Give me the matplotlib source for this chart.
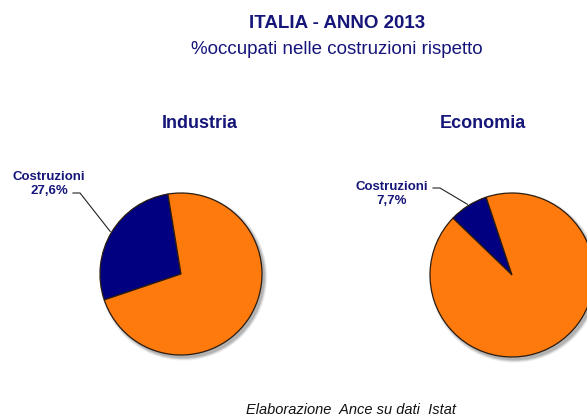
import numpy as np
import matplotlib
matplotlib.use("Agg")
import matplotlib.pyplot as plt
from matplotlib.patches import Circle

plt.rcParams["font.family"] = ["Liberation Sans", "DejaVu Sans"]

# quota occupati costruzioni vs resto
panels = ["Industria", "Economia"]
costruzioni = [27.6, 7.7]
label_txt = ["Costruzioni\n27,6%", "Costruzioni\n7,7%"]

NAVY = "#000080"
ORANGE = "#FF7A0C"
TXT = "#16167A"

W, H = 587, 416
fig = plt.figure(figsize=(W / 100, H / 100), dpi=100)


def px_axes(cx, cy, r):
    # axes box in pixels (y from top) -> figure fraction
    return fig.add_axes([(cx - r) / W, 1 - (cy + r) / H, 2 * r / W, 2 * r / H])


# pie geometry: centre x, centre y, radius, start angle
geom = [(181, 274, 81, 99.3), (512, 275, 82, 108.4)]
label_pos = [(49, 184), (392, 194)]
elbow = [(73, 80, 193), (433, 440, 188)]
title_pos = [200, 483]

for i, name in enumerate(panels):
    cx, cy, r, start = geom[i]
    ax = px_axes(cx, cy, r)

    # soft drop shadow
    for k, a in enumerate([0.05, 0.07, 0.09, 0.12]):
        ax.add_patch(Circle((0.03, -0.035), 1.035 - k * 0.01, color="#000000",
                            alpha=a, lw=0, zorder=0, clip_on=False))

    vals = [costruzioni[i], 100 - costruzioni[i]]
    wedges, _ = ax.pie(vals, colors=[NAVY, ORANGE], startangle=start, counterclock=True,
                       radius=1, wedgeprops=dict(edgecolor="#2a1c10", linewidth=0.9))
    for w in wedges:
        w.set_zorder(2)
        w.set_clip_on(False)
    ax.set_xlim(-1, 1)
    ax.set_ylim(-1, 1)
    ax.set_aspect("equal")
    ax.axis("off")

    # leader line from label to wedge middle
    mid = np.deg2rad(start + costruzioni[i] / 100 * 360 / 2)
    rim_x = cx + r * 1.02 * np.cos(mid)
    rim_y = cy - r * 1.02 * np.sin(mid)
    x0, x1, ly = elbow[i]
    fig.add_artist(plt.Line2D([x0 / W, x1 / W, rim_x / W],
                              [1 - ly / H, 1 - ly / H, 1 - rim_y / H],
                              color="#222222", lw=0.8))

    lx, lyt = label_pos[i]
    fig.text(lx / W, 1 - lyt / H, label_txt[i], ha="center", va="center",
             fontsize=9.5, fontweight="bold", color=TXT, linespacing=1.15)

    fig.text(title_pos[i] / W, 1 - 123 / H, name, ha="center", va="center",
             fontsize=13, fontweight="bold", color=TXT)

fig.text(337 / W, 1 - 24 / H, "ITALIA - ANNO 2013", ha="center", va="center",
         fontsize=13.5, fontweight="bold", color=TXT)
fig.text(337 / W, 1 - 50 / H, "%occupati nelle costruzioni rispetto", ha="center",
         va="center", fontsize=13.5, color=TXT)
fig.text(351 / W, 1 - 410 / H, "Elaborazione  Ance su dati  Istat", ha="center",
         va="center", fontsize=10.5, style="italic", color="#111111")

fig.savefig("out.png", dpi=100, facecolor="white")
